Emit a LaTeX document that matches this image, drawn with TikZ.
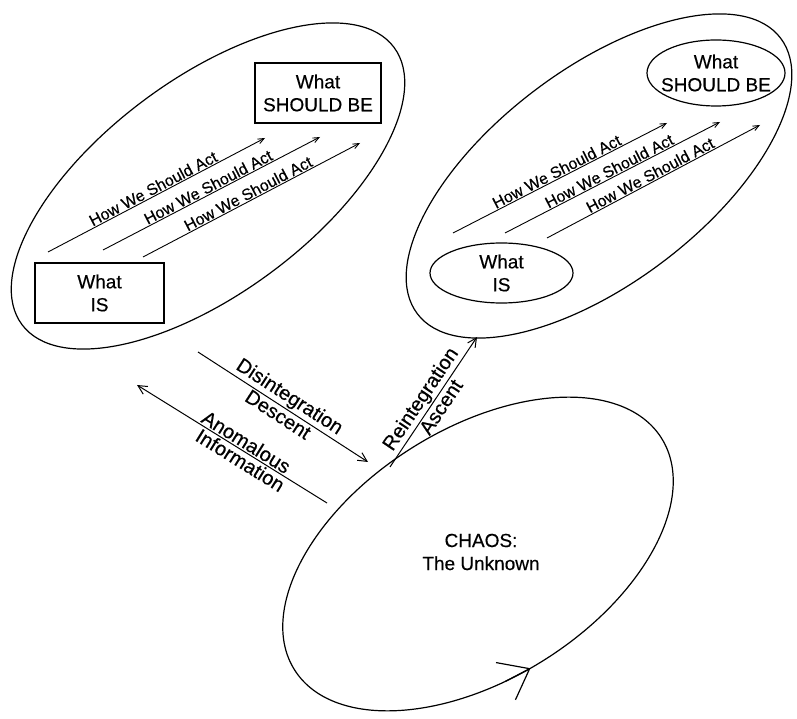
\documentclass[tikz,border=0pt]{standalone}
\usepackage{fontspec}
\setmainfont{Liberation Sans}
\usetikzlibrary{arrows.meta,shapes.geometric}
\newcommand\mainfnt{\fontsize{19}{23}\selectfont\addfontfeature{FakeBold=0.4}}
\newcommand\actfnt{\fontsize{16}{19}\selectfont\addfontfeature{FakeBold=0.4}}
\newcommand\midfnt{\fontsize{20}{24}\selectfont\addfontfeature{FakeBold=0.4}}
\begin{document}
\begin{tikzpicture}[x=1pt,y=1pt,
  bigell/.style={line width=1.2pt},
  boxnode/.style={draw, line width=1.4pt, minimum height=60pt, align=center, font=\mainfnt, inner sep=2pt},
  ellnode/.style={draw, ellipse, line width=1.2pt, align=center, font=\mainfnt, inner xsep=-8pt, inner ysep=0pt},
  sarrow/.style={line width=0.9pt, -{Straight Barb[length=6pt,width=5pt]}},
  marrow/.style={line width=1pt, -{Straight Barb[length=9pt,width=9pt]}},
  hlabel/.style={midway, above, sloped, inner sep=1pt, font=\actfnt},
  mlabel/.style={sloped, inner sep=1.5pt, font=\midfnt}]
\useasboundingbox (0,0) rectangle (797,718);

% left big ellipse
\begin{scope}[shift={(208,532)}, rotate=36.7]
  \draw[bigell] (0,0) ellipse [x radius=232pt, y radius=107pt];
\end{scope}
% right big ellipse
\begin{scope}[shift={(599,542)}, rotate=37.2]
  \draw[bigell] (0,0) ellipse [x radius=228pt, y radius=107pt];
\end{scope}
% chaos ellipse
\begin{scope}[shift={(478,164)}, rotate=32.3]
  \draw[bigell] (0,0) ellipse [x radius=217pt, y radius=125pt];
  \coordinate (cht) at (265.6:217pt and 125pt);
  \coordinate (chs) at (258:217pt and 125pt);
\end{scope}
\draw[line width=1.2pt, -{Straight Barb[length=27pt,width=42pt]}] (chs) -- (cht);
\node[align=center, font=\mainfnt] (chaos) at (481,166) {CHAOS:\\The Unknown};

% left ellipse contents
\node[boxnode, minimum width=126pt] (lsb) at (318,625) {What\\SHOULD BE};
\node[boxnode, minimum width=129pt] (lis) at (99.5,425) {What\\IS};
\coordinate (a1s) at (48,466);  \coordinate (a1e) at (265,580);
\coordinate (a2s) at (103,468); \coordinate (a2e) at (320,581);
\coordinate (a3s) at (143,461); \coordinate (a3e) at (360,575);
\draw[sarrow] (a1s) -- node[hlabel]{How We Should Act} (a1e);
\draw[sarrow] (a2s) -- node[hlabel]{How We Should Act} (a2e);
\draw[sarrow] (a3s) -- node[hlabel]{How We Should Act} (a3e);

% right ellipse contents
\node[ellnode, minimum width=138pt, minimum height=66pt] (rsb) at (716,645) {What\\SHOULD BE};
\node[ellnode, minimum width=143pt, minimum height=60pt] (ris) at (501.5,445) {What\\IS};
\coordinate (b1s) at (453,485); \coordinate (b1e) at (667,595);
\coordinate (b2s) at (505,485); \coordinate (b2e) at (720,596);
\coordinate (b3s) at (547,480); \coordinate (b3e) at (760,593);
\draw[sarrow] (b1s) -- node[hlabel]{How We Should Act} (b1e);
\draw[sarrow] (b2s) -- node[hlabel]{How We Should Act} (b2e);
\draw[sarrow] (b3s) -- node[hlabel]{How We Should Act} (b3e);

% middle arrows
\coordinate (d1) at (198,366); \coordinate (d2) at (368,256);
\draw[marrow] (d1) -- node[mlabel, midway, above]{Disintegration} node[mlabel, midway, below]{Descent} (d2);
\coordinate (n1) at (137,333); \coordinate (n2) at (327,215);
\draw[marrow, {Straight Barb[length=9pt,width=9pt]}-] (n1) -- node[mlabel, pos=0.55, above]{Anomalous} node[mlabel, pos=0.57, below]{Information} (n2);
\coordinate (r1) at (390,251); \coordinate (r2) at (477,381);
\draw[marrow] (r1) -- node[mlabel, pos=0.47, above]{Reintegration} node[mlabel, pos=0.5, below]{Ascent} (r2);
\end{tikzpicture}
\end{document}
